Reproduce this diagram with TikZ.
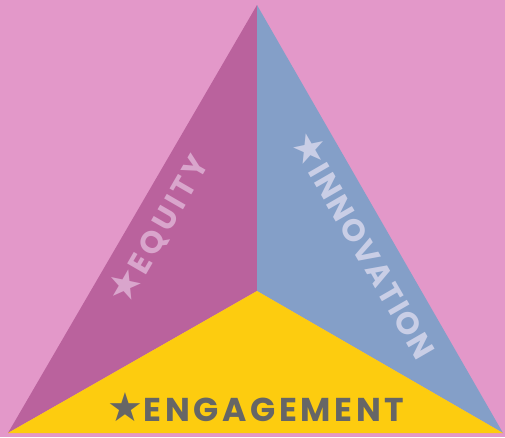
\documentclass[tikz,border=0pt]{standalone}
\usepackage{fontspec}
\newfontfamily\labelfont{Poppins}
\newfontfamily\starfont{DejaVu Sans}
\definecolor{bgpink}{HTML}{E398C9}
\definecolor{equitymag}{HTML}{BA629D}
\definecolor{innoblue}{HTML}{849FC8}
\definecolor{engyellow}{HTML}{FDCC0F}
\definecolor{textgray}{HTML}{666666}
\definecolor{equitytext}{HTML}{D9A5CC}
\definecolor{innotext}{HTML}{C9CEE6}
\newcommand\labelstar{{\starfont\fontsize{40}{40}\selectfont★}}
\begin{document}
\begin{tikzpicture}[x=1pt,y=-1pt,
		sectorlabel/.style={inner sep=0pt, anchor=center}]
			\fill[bgpink] (0,0) rectangle (505,437);
			\coordinate(Apex)   at (257,5);
			\coordinate(Left)   at (8,433);
			\coordinate(Right)  at (503,433);
			\coordinate(Hub)    at (257,291);
			\fill[equitymag]  (Apex) -- (Hub) -- (Left) -- cycle;
			\fill[innoblue]   (Apex) -- (Right) -- (Hub) -- cycle;
			\fill[engyellow]  (Hub) -- (Right) -- (Left) -- cycle;
			\node(Equity)      [sectorlabel, text=equitytext, rotate=60, font=\labelfont\bfseries\fontsize{31}{31}\selectfont\addfontfeature{LetterSpace=12}]  at (158,229)  {\labelstar EQUITY};
			\node(Innovation)  [sectorlabel, text=innotext, rotate=-60, font=\labelfont\bfseries\fontsize{31}{31}\selectfont\addfontfeature{LetterSpace=7}]   at (366,244)  {\labelstar INNOVATION};
			\node(Engagement)  [sectorlabel, text=textgray, font=\labelfont\bfseries\fontsize{33}{33}\selectfont\addfontfeature{LetterSpace=11}] at (256,407) {\labelstar ENGAGEMENT};
		\end{tikzpicture}
\end{document}
